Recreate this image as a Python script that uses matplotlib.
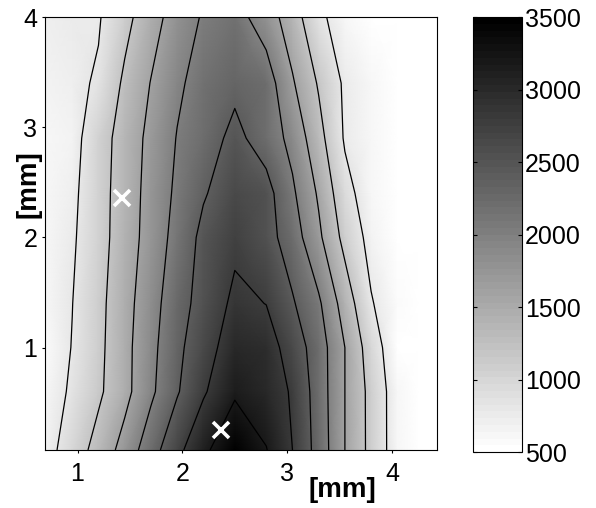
import numpy as np
import matplotlib
matplotlib.use("Agg")
import matplotlib.pyplot as plt

plt.rcParams["font.family"] = ["Liberation Sans", "DejaVu Sans"]

# grid positions [mm]
x_mm = [0.69, 0.95, 1.20, 1.45, 1.70, 1.95, 2.20, 2.50, 2.80, 3.05, 3.30, 3.55, 3.80, 4.05, 4.25, 4.43]
y_mm = [0.07, 0.6, 1.0, 1.4, 2.0, 2.4, 2.9, 3.4, 4.0]

# values, one list per row (bottom -> top)
row_y007 = [650, 990, 1340, 1745, 2232, 2696, 3104, 3550, 3215, 2800, 2246, 1600, 1091, 600, 500, 480]
row_y060 = [600, 856, 1133, 1481, 1924, 2365, 2754, 3140, 3000, 2762, 2215, 1600, 1086, 600, 500, 480]
row_y100 = [580, 812, 1106, 1483, 1888, 2313, 2635, 3000, 2980, 2624, 2200, 1600, 1000, 540, 500, 480]
row_y140 = [600, 795, 1093, 1456, 1846, 2240, 2545, 2880, 2794, 2440, 2062, 1420, 827, 560, 500, 480]
row_y200 = [620, 752, 1055, 1393, 1763, 2133, 2500, 2720, 2550, 2200, 1675, 1080, 680, 500, 490, 480]
row_y240 = [640, 723, 1045, 1386, 1738, 2071, 2365, 2620, 2540, 2063, 1550, 925, 600, 500, 480, 480]
row_y290 = [640, 676, 1021, 1366, 1703, 2016, 2220, 2500, 2224, 1886, 1333, 760, 620, 500, 480, 480]
row_y340 = [680, 720, 840, 1269, 1613, 1935, 2150, 2315, 2200, 1640, 1162, 740, 620, 520, 490, 480]
row_y400 = [720, 750, 770, 1080, 1446, 1771, 2040, 2150, 1800, 1389, 870, 640, 540, 500, 490, 480]

contour_levels = [800, 1200, 1600, 2000, 2400, 2800, 3200]
cbar_ticks = [500, 1000, 1500, 2000, 2500, 3000, 3500]

# marked positions
mark_x = [1.42, 2.37]
mark_y = [2.36, 0.25]


def main():
    Z = np.array([row_y007, row_y060, row_y100, row_y140, row_y200,
                  row_y240, row_y290, row_y340, row_y400], dtype=float)
    X, Y = np.meshgrid(x_mm, y_mm)

    cmap = plt.get_cmap("gray_r", 64)

    fig = plt.figure(figsize=(5.96, 5.08), dpi=100)
    ax = fig.add_axes([0.0755, 0.1142, 0.658, 0.8523])
    cax = fig.add_axes([0.794, 0.110, 0.082, 0.8565])

    mesh = ax.pcolormesh(X, Y, Z, shading="gouraud", cmap=cmap,
                         vmin=500, vmax=3500)
    ax.contour(X, Y, Z, levels=contour_levels, colors="k", linewidths=0.9)
    ax.plot(mark_x, mark_y, ls="none", marker="x", color="white",
            markersize=11.5, markeredgewidth=2.6)

    ax.set_xlim(x_mm[0], x_mm[-1])
    ax.set_ylim(y_mm[0], y_mm[-1])
    ax.set_xticks([1, 2, 3, 4])
    ax.set_yticks([1, 2, 3, 4])
    ax.tick_params(direction="out", length=2.5, width=0.8, labelsize=18)
    ax.tick_params(axis="x", pad=6)
    ax.tick_params(axis="y", pad=3)
    for s in ax.spines.values():
        s.set_linewidth(0.8)

    ax.set_xlabel("[mm]", fontsize=20, fontweight="bold")
    ax.xaxis.set_label_coords(0.758, -0.063)
    ax.set_ylabel("[mm]", fontsize=20, fontweight="bold")
    ax.yaxis.set_label_coords(-0.008, 0.614)

    cb = fig.colorbar(mesh, cax=cax, ticks=cbar_ticks)
    cb.outline.set_linewidth(0.8)
    cax.tick_params(direction="in", length=3, labelsize=18, pad=2,
                    left=True, right=True)

    fig.savefig("out.png", dpi=100)


if __name__ == "__main__":
    main()
